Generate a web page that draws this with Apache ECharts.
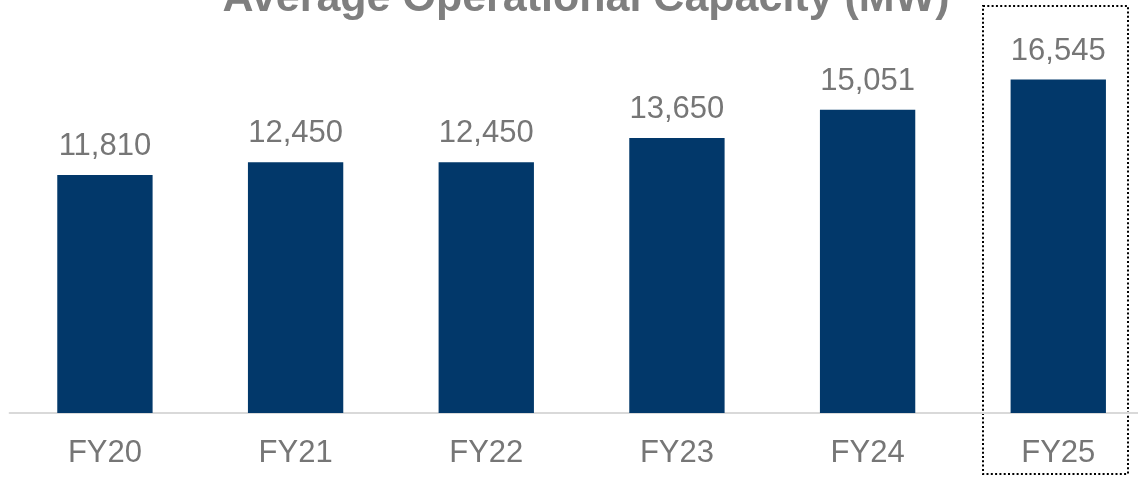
<!DOCTYPE html>
<html>
<head>
<meta charset="utf-8">
<script src="https://cdn.jsdelivr.net/npm/echarts@6/dist/echarts.min.js"></script>
<style>
  html, body { margin: 0; padding: 0; background: #fff; }
  #container { width: 1138px; height: 479px; }
</style>
</head>
<body>
<div id="container"></div>
<script>
var years = ['FY20', 'FY21', 'FY22', 'FY23', 'FY24', 'FY25'];
var capacity = [11810, 12450, 12450, 13650, 15051, 16545];

var dom = document.getElementById('container');
var myChart = echarts.init(dom);

var option = {
    animation: false,
    title: {
        text: 'Average Operational Capacity (MW)',
        left: 581,
        textAlign: 'center',
        top: -27,
        textStyle: {
            color: '#7F7F7F',
            fontFamily: 'Liberation Sans',
            fontWeight: 'bold',
            fontSize: 43
        }
    },
    grid: {
        left: 9.6,
        width: 1144,
        top: 10,
        bottom: 66,
        outerBoundsMode: 'none'
    },
    xAxis: {
        type: 'category',
        data: years,
        axisTick: {show: false},
        axisLine: {lineStyle: {color: '#D9D9D9', width: 2}},
        axisLabel: {
            color: '#767676',
            fontFamily: 'Liberation Sans',
            fontSize: 31,
            margin: 25
        }
    },
    yAxis: {
        type: 'value',
        min: 0,
        max: 20000,
        show: false
    },
    series: [{
        type: 'bar',
        data: capacity,
        barWidth: '50%',
        itemStyle: {color: '#02386A'},
        label: {
            show: true,
            position: 'top',
            distance: 13,
            color: '#767676',
            fontFamily: 'Liberation Sans',
            fontSize: 31,
            formatter: function (p) {
                return p.value.toLocaleString('en-US');
            }
        }
    }]
};

myChart.setOption(option);

// dotted highlight box around the last category
var cx = myChart.convertToPixel({xAxisIndex: 0}, years[years.length - 1]);
var boxX = Math.round(cx - 76) + 1;
myChart.setOption({
    graphic: [{
        type: 'rect',
        shape: {x: boxX, y: 6, width: 145, height: 468},
        style: {fill: 'none', stroke: '#000', lineWidth: 2, lineDash: [2, 2.3]}
    }]
});
</script>
</body>
</html>
